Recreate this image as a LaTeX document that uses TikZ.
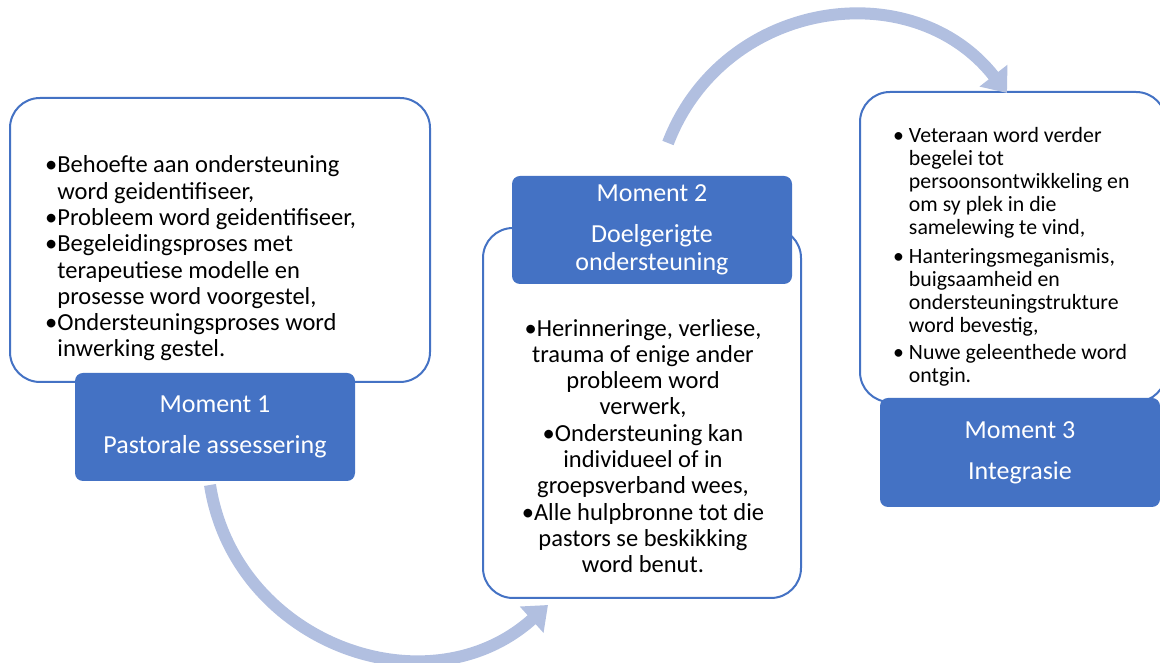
\documentclass[tikz,border=0pt]{standalone}
\usepackage{fontspec}
\setmainfont{Carlito}
\usetikzlibrary{positioning,arrows.meta}
\definecolor{mblue}{HTML}{4472C4}
\definecolor{flowblue}{HTML}{B1BFE0}

\begin{document}
\begin{tikzpicture}[x=1pt,y=1pt,
      panel/.style={draw=mblue,line width=2pt,rounded corners=30pt,fill=white,inner sep=0pt},
      head/.style={fill=mblue,rounded corners=8pt,text=white,align=center,minimum width=280pt,minimum height=108pt,font=\fontsize{26}{28}\selectfont},
      body/.style={align=left,inner sep=0pt,font=\fontsize{24.5}{26.3}\selectfont},
      flow/.style={draw=flowblue,line width=12pt,-{Triangle[width=34pt,length=22pt]}}]
    \useasboundingbox (0,0) rectangle (1160,663);
    % panels
    \node[panel,minimum width=420pt,minimum height=284pt] (p1) at (220,423) {};
    \node[panel,minimum width=318pt,minimum height=370pt] (p2) at (642,250) {};
    \node[panel,minimum width=306pt,minimum height=310pt] (p3) at (1013,416) {};
    % texts
    \node[body,anchor=west] (t1) at (45,404.5) {\textbullet Behoefte aan ondersteuning\\\phantom{\textbullet}word geidentifiseer,\\\textbullet Probleem word geidentifiseer,\\\textbullet Begeleidingsproses met\\\phantom{\textbullet}terapeutiese modelle en\\\phantom{\textbullet}prosesse word voorgestel,\\\textbullet Ondersteuningsproses word\\\phantom{\textbullet}inwerking gestel.};
    \node[body,align=center] (t2) at (643,217) {\textbullet Herinneringe, verliese,\\trauma of enige ander\\probleem word\\verwerk,\\\textbullet Ondersteuning kan\\individueel of in\\groepsverband wees,\\\textbullet Alle hulpbronne tot die\\pastors se beskikking\\word benut.};
    \node[body,anchor=west,font=\fontsize{21.8}{23}\selectfont] (t3) at (893,406) {\textbullet\ Veteraan word verder\\\phantom{\textbullet\ }begelei tot\\\phantom{\textbullet\ }persoonsontwikkeling en\\\phantom{\textbullet\ }om sy plek in die\\\phantom{\textbullet\ }samelewing te vind,\\[6pt]\textbullet\ Hanteringsmeganismis,\\\phantom{\textbullet\ }buigsaamheid  en\\\phantom{\textbullet\ }ondersteuningstrukture\\\phantom{\textbullet\ }word bevestig,\\[4pt]\textbullet\ Nuwe geleenthede word\\\phantom{\textbullet\ }ontgin.};
    % headers
    \node[head] (h1) at (215,236) {Moment 1\\[13pt]Pastorale assessering};
    \node[head] (h2) at (652,433) {Moment 2\\[13pt]Doelgerigte\\ondersteuning};
    \node[head,minimum height=109pt] (h3) at (1020,210.5) {Moment 3\\[13pt]Integrasie};
    % arrows
    \coordinate (s1) at (210,178);
    \coordinate (e1) at (548,58);
    \coordinate (s2) at (668,520);
    \coordinate (e2) at (1007,570);
    \draw[flow] (s1) to[out=279,in=222,looseness=1.15] (e1);
    \draw[flow] (s2) to[out=69,in=128,looseness=1.15] (e2);
  \end{tikzpicture}
\end{document}
